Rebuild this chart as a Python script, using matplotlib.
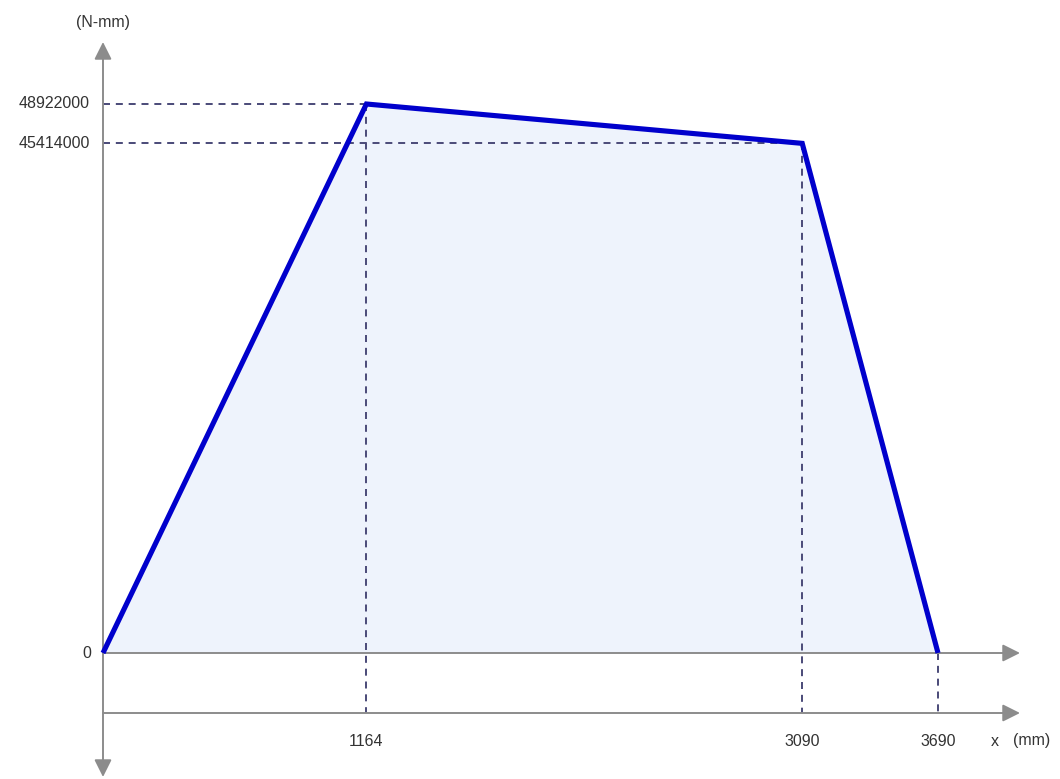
import matplotlib
matplotlib.use("Agg")
import matplotlib.pyplot as plt

# Data
x_pts = [0, 1164, 3090, 3690]
m_pts = [0, 48922000, 45414000, 0]
x_ticks = [1164, 3090, 3690]
y_ticks = [48922000, 45414000]
y_label = "(N-mm)"
x_label_var = "x"
x_label_unit = "(mm)"

plt.rcParams['font.family'] = ['Liberation Sans', 'DejaVu Sans']

fig = plt.figure(figsize=(10.6, 7.79), dpi=100)
ax = fig.add_axes([0, 0, 1, 1])
ax.axis('off')

# scale setup (pixel mapping)
pxx = (938 - 103) / 3690.0
ymax = max(m_pts)
pxy = (653 - 104) / ymax
ax.set_xlim(-103 / pxx, (1060 - 103) / pxx)
ax.set_ylim(-(779 - 653) / pxy, 653 / pxy)

def X(p):
    return (p - 103) / pxx

def Y(p):
    return (653 - p) / pxy

axis_col = '#8c8c8c'
dash_col = '#4a4a78'
txt_col = '#333333'
y2 = Y(713)

# fill
ax.fill(x_pts, m_pts, color='#eef3fc', zorder=1, lw=0)

# dashed guides
dash = (0, (3.6, 3.0))
for xv, yv in zip(x_pts[1:3], m_pts[1:3]):
    ax.plot([0, xv], [yv, yv], ls=dash, color=dash_col, lw=1.4, zorder=2)
for xv, yv in zip(x_pts[1:], m_pts[1:]):
    ax.plot([xv, xv], [yv, y2], ls=dash, color=dash_col, lw=1.4, zorder=2)

# axes with arrows
ap = dict(arrowstyle='-|>,head_length=1.0,head_width=0.5', mutation_scale=10.5,
          color=axis_col, lw=1.4, shrinkA=0, shrinkB=0)
ax.annotate('', xy=(X(1020), 0), xytext=(0, 0), arrowprops=ap, zorder=3)
ax.annotate('', xy=(X(1020), y2), xytext=(0, y2), arrowprops=ap, zorder=3)
ax.annotate('', xy=(0, Y(42)), xytext=(0, 0), arrowprops=ap, zorder=3)
ax.annotate('', xy=(0, Y(777)), xytext=(0, 0), arrowprops=ap, zorder=3)

# moment line
ax.plot(x_pts, m_pts, color='#0000cc', lw=3.7, solid_joinstyle='miter', zorder=4,
        solid_capstyle='butt')

# labels
fs = 11.5
for yv in y_ticks:
    ax.text(X(90), yv, f"{yv}", ha='right', va='center', fontsize=fs, color=txt_col)
ax.text(X(91), 0, "0", ha='right', va='center', fontsize=fs, color=txt_col)
for xv in x_ticks:
    ax.text(xv, Y(741), f"{xv}", ha='center', va='center', fontsize=fs, color=txt_col)
ax.text(0, Y(22), y_label, ha='center', va='center', fontsize=fs, color=txt_col)
ax.text(X(995), Y(741), x_label_var, ha='center', va='center', fontsize=fs, color=txt_col)
ax.text(X(1013), Y(741), x_label_unit, ha='left', va='center', fontsize=fs, color=txt_col)

fig.savefig('out.png', dpi=100)
